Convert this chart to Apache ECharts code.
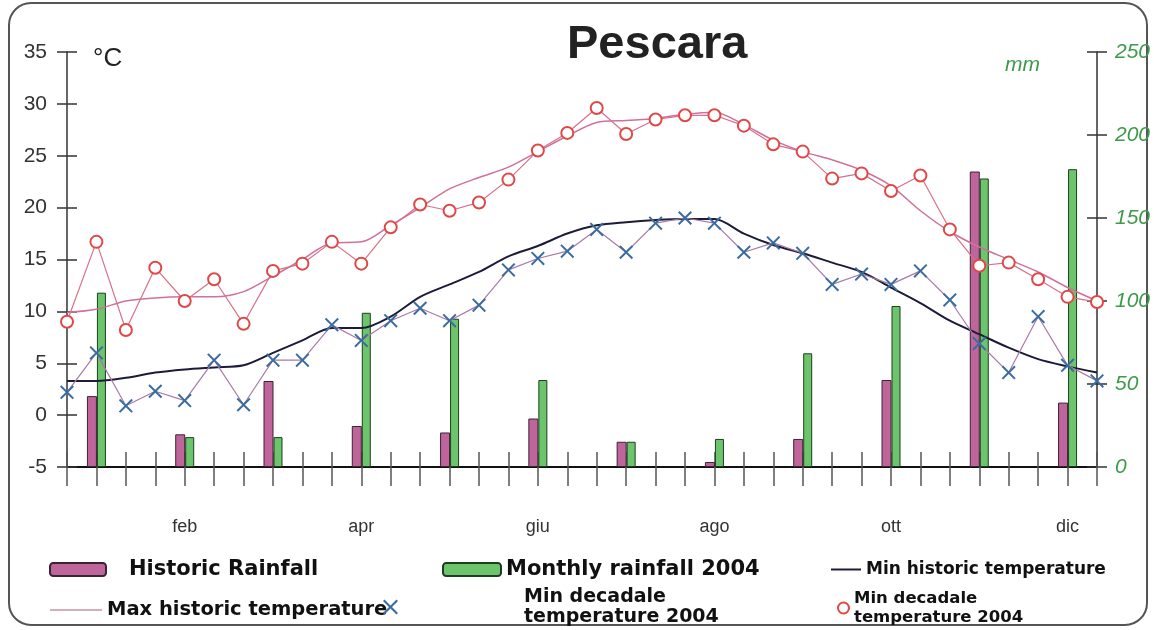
<!DOCTYPE html>
<html>
<head>
<meta charset="utf-8">
<script src="https://cdn.jsdelivr.net/npm/echarts@6/dist/echarts.min.js"></script>
<style>
html,body{margin:0;padding:0;background:#fff;}
#chart{width:1154px;height:630px;}
</style>
</head>
<body>
<div id="chart"></div>
<script>
// ---- data ----
const months = ['gen','feb','mar','apr','mag','giu','lug','ago','set','ott','nov','dic'];
const decades = ['I','II','III'];
const tickLabels = ['feb','apr','giu','ago','ott','dic'];
const rainTicks = [0, 50, 100, 150, 200, 250];
const tempTicks = [-5, 0, 5, 10, 15, 20, 25, 30, 35];

// monthly rainfall (mm)
const historicRainfall = [42.7, 19.7, 51.8, 24.7, 20.8, 29.2, 15.2, 3.0, 16.9, 52.4, 178.0, 38.8];
const monthlyRainfall2004 = [105.0, 18.0, 18.0, 92.9, 89.3, 52.4, 15.2, 16.9, 68.5, 97.0, 173.8, 179.4];

// decadal temperatures (°C)
const minHistoric = [3.3, 3.3, 3.6, 4.1, 4.4, 4.6, 4.8, 6.0, 7.2, 8.4, 8.4, 9.5,
  11.4, 12.6, 13.8, 15.3, 16.3, 17.5, 18.3, 18.6, 18.8, 18.9, 18.9, 17.5,
  16.4, 15.6, 14.7, 13.8, 12.3, 10.8, 9.1, 7.8, 6.5, 5.4, 4.7, 4.1];
const maxHistoric = [9.9, 10.2, 11.0, 11.3, 11.4, 11.4, 11.9, 13.4, 15.0, 16.6, 16.7, 18.3,
  20.0, 21.8, 22.9, 23.9, 25.4, 26.9, 28.2, 28.4, 28.6, 29.0, 29.2, 28.0,
  26.5, 25.4, 24.6, 23.6, 22.1, 19.7, 17.7, 16.2, 15.0, 13.8, 12.3, 11.0];
const minDecadale2004 = [2.2, 6.0, 0.9, 2.3, 1.4, 5.3, 1.0, 5.3, 5.3, 8.7, 7.2, 9.1,
  10.3, 9.1, 10.6, 14.0, 15.1, 15.8, 17.9, 15.7, 18.5, 19.0, 18.5, 15.7,
  16.6, 15.6, 12.6, 13.6, 12.6, 13.9, 11.1, 6.9, 4.1, 9.5, 4.8, 3.3];
const maxDecadale2004 = [9.0, 16.7, 8.2, 14.2, 11.0, 13.1, 8.8, 13.9, 14.6, 16.7, 14.6, 18.1,
  20.3, 19.7, 20.5, 22.7, 25.5, 27.2, 29.6, 27.1, 28.5, 28.9, 28.9, 27.9,
  26.1, 25.4, 22.8, 23.3, 21.6, 23.1, 17.9, 14.4, 14.7, 13.1, 11.4, 10.9];

// ---- derived tables ----
const categories = [];
months.forEach(m => decades.forEach(d => categories.push(m + ' ' + d)));
function monthlyToDecadal(arr) { // monthly bar placed on the middle decade
  const out = categories.map(() => null);
  arr.forEach((v, i) => { out[i * 3 + 1] = v; });
  return out;
}
const labelIdx = tickLabels.map(t => months.indexOf(t) * 3 + 1);

const X_PATH = 'path://M1,0 L5,4 L9,0 L10,1 L6,5 L10,9 L9,10 L5,6 L1,10 L0,9 L4,5 L0,1 Z';
const legendFont = 'DejaVu Sans';
const displayNames = {
  'Min decadale temperature 2004': 'Min decadale\ntemperature 2004',
  'Max decadale temperature 2004': 'Min decadale\ntemperature 2004'
};
function fmt(n) { return displayNames[n] || n; }

const chart = echarts.init(document.getElementById('chart'), null, {renderer: 'canvas'});
const option = {
  animation: false,
  backgroundColor: '#fff',
  title: {
    text: 'Pescara', left: 562, top: 17,
    textStyle: {fontFamily: 'Liberation Sans', fontWeight: 'bold', fontSize: 47, color: '#222'}
  },
  graphic: [{
    type: 'rect', silent: true, z: -1,
    shape: {x: 9, y: 3, width: 1138, height: 622, r: 22},
    style: {fill: 'none', stroke: '#555', lineWidth: 2}
  }],
  legend: [
    {data: ['Historic Rainfall'], left: 44, top: 554, itemWidth: 56, itemHeight: 13,
     textStyle: {fontFamily: legendFont, fontWeight: 'bold', fontSize: 21, color: '#111', padding: [0,0,0,18]}},
    {data: ['Monthly rainfall 2004'], left: 437, top: 554, itemWidth: 58, itemHeight: 13,
     textStyle: {fontFamily: legendFont, fontWeight: 'bold', fontSize: 21, color: '#111'}},
    {data: [{name: 'Min historic temperature', icon: 'rect'}], left: 826, top: 556, itemWidth: 30, itemHeight: 2,
     textStyle: {fontFamily: legendFont, fontWeight: 'bold', fontSize: 17, color: '#111'}},
    {data: [{name: 'Max historic temperature', icon: 'rect'}], left: 45, top: 595, itemWidth: 52, itemHeight: 1.5,
     textStyle: {fontFamily: legendFont, fontWeight: 'bold', fontSize: 19.5, color: '#111'}},
    {data: [{name: 'Min decadale temperature 2004', icon: X_PATH}], left: 378, top: 582,
     itemWidth: 15, itemHeight: 15, formatter: fmt,
     textStyle: {fontFamily: legendFont, fontWeight: 'bold', fontSize: 19, color: '#111', lineHeight: 20, padding: [0,0,0,121]}},
    {data: [{name: 'Max decadale temperature 2004', icon: 'emptyCircle'}], left: 832, top: 584,
     itemWidth: 11, itemHeight: 11, formatter: fmt,
     textStyle: {fontFamily: legendFont, fontWeight: 'bold', fontSize: 16.5, color: '#111', lineHeight: 19}}
  ],
  grid: {left: 67, right: 57, top: 52, bottom: 163, containLabel: false},
  xAxis: [{
    type: 'category', data: categories, boundaryGap: false, position: 'bottom',
    axisLine: {onZero: false, lineStyle: {color: '#111', width: 2}},
    axisTick: {interval: 0, length: 19, lineStyle: {color: '#555', width: 1.5}},
    axisLabel: {
      interval: (i) => labelIdx.indexOf(i) >= 0,
      formatter: (v) => v.split(' ')[0],
      margin: 51, fontFamily: 'Liberation Sans', fontSize: 18, color: '#333'
    },
    splitLine: {show: false}
  }, {
    type: 'category', data: categories, boundaryGap: false, position: 'bottom',
    axisLine: {show: false, onZero: false},
    axisTick: {interval: 0, inside: true, length: 15, lineStyle: {color: '#555', width: 1.5}},
    axisLabel: {show: false}, splitLine: {show: false}
  }],
  yAxis: [{
    type: 'value', min: -5, max: 35, interval: 5, position: 'left',
    name: '°C', nameLocation: 'end', nameGap: -20,
    nameTextStyle: {fontFamily: 'Liberation Sans', fontSize: 26, color: '#222', align: 'left', verticalAlign: 'bottom', padding: [0,0,0,26]},
    axisLine: {show: true, lineStyle: {color: '#333', width: 1.5}},
    axisTick: {show: true, length: 10, lineStyle: {color: '#333', width: 1.5}},
    axisLabel: {margin: 20, fontFamily: 'Liberation Sans', fontSize: 21, color: '#333',
      formatter: (v) => tempTicks.indexOf(v) >= 0 ? String(v) : ''},
    splitLine: {show: false}
  }, {
    type: 'value', min: 0, max: 250, interval: 50, position: 'right',
    name: 'mm', nameLocation: 'end', nameGap: -24,
    nameTextStyle: {fontFamily: 'Liberation Sans', fontStyle: 'italic', fontSize: 21, color: '#3d9a4a', align: 'right', verticalAlign: 'bottom', padding: [0,57,0,0]},
    axisLine: {show: true, lineStyle: {color: '#333', width: 1.5}},
    axisTick: {show: true, length: 10, lineStyle: {color: '#333', width: 1.5}},
    axisLabel: {margin: 18, fontFamily: 'Liberation Sans', fontStyle: 'italic', fontSize: 21, color: '#3d9a4a',
      formatter: (v) => rainTicks.indexOf(v) >= 0 ? String(v) : ''},
    splitLine: {show: false}
  }, {
    type: 'value', min: -5, max: 35, interval: 5, position: 'left',
    axisLine: {show: false}, axisTick: {show: true, inside: true, length: 10, lineStyle: {color: '#333', width: 1.5}},
    axisLabel: {show: false}, splitLine: {show: false}
  }, {
    type: 'value', min: 0, max: 250, interval: 50, position: 'right',
    axisLine: {show: false}, axisTick: {show: true, inside: true, length: 10, lineStyle: {color: '#333', width: 1.5}},
    axisLabel: {show: false}, splitLine: {show: false}
  }],
  series: [{
    name: 'Historic Rainfall', type: 'bar', xAxisIndex: 0, yAxisIndex: 1,
    data: monthlyToDecadal(historicRainfall), barWidth: 10, barGap: '0%',
    itemStyle: {color: '#c0649c', borderColor: '#3a2433', borderWidth: 1}, z: 2
  }, {
    name: 'Monthly rainfall 2004', type: 'bar', xAxisIndex: 0, yAxisIndex: 1,
    data: monthlyToDecadal(monthlyRainfall2004), barWidth: 9, barGap: '0%',
    itemStyle: {color: '#6cc46c', borderColor: '#1e3f1e', borderWidth: 1}, z: 2
  }, {
    name: 'Min historic temperature', type: 'line', xAxisIndex: 0, yAxisIndex: 0,
    data: minHistoric, symbol: 'none', smooth: 0.3,
    lineStyle: {color: '#1c1c3a', width: 2}, itemStyle: {color: '#1c1c3a'}, z: 3
  }, {
    name: 'Max historic temperature', type: 'line', xAxisIndex: 0, yAxisIndex: 0,
    data: maxHistoric, symbol: 'none', smooth: 0.3,
    lineStyle: {color: '#d0709c', width: 1.5}, itemStyle: {color: '#c890a8'}, z: 3
  }, {
    name: 'Min decadale temperature 2004', type: 'line', xAxisIndex: 0, yAxisIndex: 0,
    data: minDecadale2004, symbol: X_PATH, symbolSize: 14, showSymbol: true,
    lineStyle: {color: '#a87aa8', width: 1.2}, itemStyle: {color: '#3a6c9e'}, z: 4
  }, {
    name: 'Max decadale temperature 2004', type: 'line', xAxisIndex: 0, yAxisIndex: 0,
    data: maxDecadale2004, symbol: 'emptyCircle', symbolSize: 12, showSymbol: true,
    lineStyle: {color: '#d8708a', width: 1.2}, itemStyle: {color: '#e04848', borderWidth: 2}, z: 4
  }]
};
chart.setOption(option);
</script>
</body>
</html>
